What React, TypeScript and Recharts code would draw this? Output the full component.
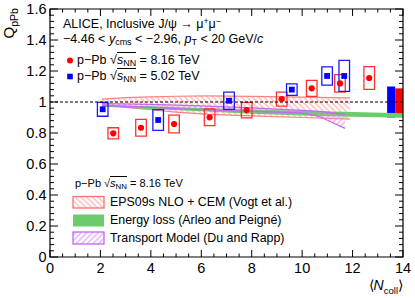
import React from 'react';
import { ComposedChart, XAxis, YAxis, Area, Scatter, ReferenceArea, ReferenceLine } from 'recharts';

const W = 415;
const H = 298;
const MARGIN = { top: 9, right: 12, bottom: 0, left: 0 };
const X_AXIS_H = 41;
const Y_AXIS_W = 50;
const PLOT_W = W - MARGIN.right - Y_AXIS_W;
const PLOT_H = H - MARGIN.top - X_AXIS_H;
const FONT = '"Liberation Sans", Arial, Helvetica, sans-serif';

// ---- data: p-Pb 8.16 TeV (red) ----
const red8X = [2.51, 3.61, 4.92, 6.33, 7.8, 9.19, 10.38, 11.5, 12.66];
const red8Y = [0.798, 0.834, 0.858, 0.901, 0.948, 1.019, 1.088, 1.12, 1.155];
const red8Sys = [0.036, 0.054, 0.057, 0.054, 0.05, 0.045, 0.052, 0.056, 0.073];

// ---- data: p-Pb 5.02 TeV (blue) ----
const blue5X = [2.09, 4.29, 7.1, 9.59, 10.99, 11.67];
const blue5Y = [0.953, 0.884, 1.008, 1.08, 1.168, 1.168];
const blue5Sys = [0.045, 0.067, 0.056, 0.037, 0.059, 0.1];

// global uncertainties
const blueGlobal = 0.1;
const redGlobal = 0.088;

// ---- models ----
const eps09X = [2.06, 3, 4, 5, 6.3, 8, 10, 11.9];
const eps09Low = [0.987, 0.965, 0.95, 0.935, 0.92, 0.91, 0.9, 0.89];
const eps09High = [1.019, 1.028, 1.033, 1.037, 1.039, 1.036, 1.032, 1.026];

const elossX = [2.06, 4, 6, 8, 10, 12, 14];
const elossLow = [0.97, 0.955, 0.94, 0.925, 0.913, 0.905, 0.898];
const elossHigh = [0.98, 0.972, 0.962, 0.952, 0.943, 0.935, 0.928];

const transpX = [2.06, 4, 6, 8, 10, 10.7, 11.7];
const transpLow = [0.978, 0.965, 0.95, 0.94, 0.93, 0.905, 0.83];
const transpHigh = [0.99, 0.985, 0.975, 0.962, 0.946, 0.94, 0.92];

// ---- ticks ----
const xMajorTicks = [0, 2, 4, 6, 8, 10, 12, 14];
const yMajorTicks = [0, 0.2, 0.4, 0.6, 0.8, 1, 1.2, 1.4, 1.6];
const xTicks: number[] = [];
for (let i = 0; i <= 28; i++) xTicks.push(i * 0.5);
const yTicks: number[] = [];
for (let i = 0; i <= 40; i++) yTicks.push(Math.round(i * 0.04 * 1000) / 1000);

const BOX_HW = 0.21;

const red8Data = red8X.map((x, i) => ({ x, y: red8Y[i], sys: red8Sys[i] }));
const blue5Data = blue5X.map((x, i) => ({ x, y: blue5Y[i], sys: blue5Sys[i] }));
const eps09Data = eps09X.map((x, i) => ({ x, range: [eps09Low[i], eps09High[i]] }));
const elossData = elossX.map((x, i) => ({ x, range: [elossLow[i], elossHigh[i]] }));
const transpData = transpX.map((x, i) => ({ x, range: [transpLow[i], transpHigh[i]] }));

const XTick = (props: any) => {
  const { x, y, payload } = props;
  const v = payload.value;
  const major = xMajorTicks.some((t) => Math.abs(t - v) < 1e-6);
  const L = major ? 7 : 3.5;
  return (
    <g>
      <line x1={x} y1={y} x2={x} y2={y - L} stroke="#000" strokeWidth={1} />
      <line x1={x} y1={y - PLOT_H} x2={x} y2={y - PLOT_H + L} stroke="#000" strokeWidth={1} />
      {major && (
        <text x={x} y={y + 15.5} textAnchor="middle" fontSize={14.5} fontFamily={FONT} fill="#000">
          {v}
        </text>
      )}
    </g>
  );
};

const YTick = (props: any) => {
  const { x, y, payload } = props;
  const v = payload.value;
  const major = yMajorTicks.some((t) => Math.abs(t - v) < 1e-6);
  const L = major ? 8 : 4;
  const hiddenRight = Math.abs(v - 1) < redGlobal + 0.005;
  return (
    <g>
      <line x1={x} y1={y} x2={x + L} y2={y} stroke="#000" strokeWidth={1} />
      {!hiddenRight && (
        <line x1={x + PLOT_W} y1={y} x2={x + PLOT_W - L} y2={y} stroke="#000" strokeWidth={1} />
      )}
      {major && (
        <text x={x - 3.5} y={y + 5.2} textAnchor="end" fontSize={14.5} fontFamily={FONT} fill="#000">
          {Number(v.toFixed(1)).toString()}
        </text>
      )}
    </g>
  );
};

const Dot = (props: any) => <circle cx={props.cx} cy={props.cy} r={3.1} fill="#ff0000" />;
const Sq = (props: any) => (
  <rect x={props.cx - 2.9} y={props.cy - 2.9} width={5.8} height={5.8} fill="#0000ff" />
);

const TL = ({ x, base, size, children }: any) => (
  <div
    style={{
      position: 'absolute',
      left: x,
      top: base - 0.8465 * size,
      fontSize: size,
      lineHeight: `${size}px`,
      height: size,
      whiteSpace: 'nowrap',
      color: '#000',
      fontFamily: FONT,
    }}
  >
    {children}
  </div>
);

const Sub = ({ children }: any) => (
  <span style={{ fontSize: '0.72em', verticalAlign: '-0.25em', lineHeight: 0 }}>{children}</span>
);
const Sup = ({ children }: any) => (
  <span style={{ fontSize: '0.7em', verticalAlign: '0.45em', lineHeight: 0 }}>{children}</span>
);
const Sqrt = () => (
  <>
    <span>√</span>
    <span style={{ borderTop: '1px solid #000' }}>
      <i>s</i>
      <Sub>NN</Sub>
    </span>
  </>
);

const Patterns = ({ suffix }: { suffix: string }) => (
  <defs>
    <pattern id={`hatchR${suffix}`} patternUnits="userSpaceOnUse" width="4" height="4" patternTransform="rotate(-45)">
      <line x1="2" y1="0" x2="2" y2="4" stroke="#ff9a9a" strokeWidth="1" />
    </pattern>
    <pattern id={`hatchP${suffix}`} patternUnits="userSpaceOnUse" width="4" height="4" patternTransform="rotate(45)">
      <line x1="2" y1="0" x2="2" y2="4" stroke="#d48cff" strokeWidth="1" />
    </pattern>
  </defs>
);

export default function App() {
  return (
    <div style={{ position: 'absolute', left: 0, top: 0, width: W, height: H, background: '#fff', overflow: 'hidden' }}>
      <ComposedChart width={W} height={H} margin={MARGIN}>
        <Patterns suffix="c" />
        <XAxis
          type="number"
          dataKey="x"
          domain={[0, 14]}
          ticks={xTicks}
          interval={0}
          height={X_AXIS_H}
          tickSize={0}
          tickMargin={0}
          axisLine={false}
          tickLine={false}
          tick={(p: any) => <XTick {...p} />}
          allowDataOverflow
        />
        <YAxis
          type="number"
          domain={[0, 1.6]}
          ticks={yTicks}
          interval={0}
          width={Y_AXIS_W}
          tickSize={0}
          tickMargin={0}
          axisLine={false}
          tickLine={false}
          tick={(p: any) => <YTick {...p} />}
          allowDataOverflow
        />
        <ReferenceArea x1={13.37} x2={13.69} y1={1 - blueGlobal} y2={1 + blueGlobal} fill="#0000ff" fillOpacity={1} stroke="none" />
        <ReferenceArea x1={13.69} x2={14} y1={1 - redGlobal} y2={1 + redGlobal} fill="#ff0000" fillOpacity={1} stroke="none" />
        <Area
          data={eps09Data}
          dataKey="range"
          type="linear"
          stroke="#ff8080"
          strokeWidth={1.2}
          fill="url(#hatchRc)"
          fillOpacity={1}
          isAnimationActive={false}
          dot={false}
          activeDot={false}
        />
        <Area
          data={elossData}
          dataKey="range"
          type="linear"
          stroke="none"
          fill="#6ccb6c"
          fillOpacity={1}
          isAnimationActive={false}
          dot={false}
          activeDot={false}
        />
        <Area
          data={transpData}
          dataKey="range"
          type="linear"
          stroke="#c466f5"
          strokeWidth={1.2}
          fill="url(#hatchPc)"
          fillOpacity={1}
          isAnimationActive={false}
          dot={false}
          activeDot={false}
        />
        <ReferenceLine y={1} stroke="#000" strokeDasharray="3 2" strokeWidth={1.2} />
        {red8Data.map((d, i) => (
          <ReferenceArea
            key={`r${i}`}
            x1={d.x - BOX_HW}
            x2={d.x + BOX_HW}
            y1={d.y - d.sys}
            y2={d.y + d.sys}
            fill="none"
            fillOpacity={0}
            stroke="#ff3030"
            strokeWidth={1.3}
          />
        ))}
        {blue5Data.map((d, i) => (
          <ReferenceArea
            key={`b${i}`}
            x1={d.x - BOX_HW}
            x2={d.x + BOX_HW}
            y1={d.y - d.sys}
            y2={d.y + d.sys}
            fill="none"
            fillOpacity={0}
            stroke="#1a1aff"
            strokeWidth={1.3}
          />
        ))}
        <Scatter data={red8Data} dataKey="y" shape={(p: any) => <Dot {...p} />} isAnimationActive={false} />
        <Scatter data={blue5Data} dataKey="y" shape={(p: any) => <Sq {...p} />} isAnimationActive={false} />
        <ReferenceArea x1={0} x2={14} y1={0} y2={1.6} fill="none" fillOpacity={0} stroke="#000" strokeWidth={1.2} />
      </ComposedChart>

      <svg width={W} height={H} style={{ position: 'absolute', left: 0, top: 0, pointerEvents: 'none' }}>
        <Patterns suffix="l" />
        <circle cx={70} cy={60.5} r={3} fill="#ff0000" />
        <rect x={67.2} y={73.7} width={5.6} height={5.6} fill="#0000ff" />
        <rect x={73} y={196.5} width={31} height={11.5} fill="url(#hatchRl)" stroke="#ff7070" strokeWidth={1.3} />
        <rect x={73} y={214.5} width={31} height={12} fill="#6ccb6c" />
        <rect x={73} y={232} width={31} height={12} fill="url(#hatchPl)" stroke="#c466f5" strokeWidth={1.3} />
        <text transform="translate(13.5,38.5) rotate(-90)" fontFamily={FONT} fontSize={15} fill="#000">
          Q<tspan fontSize={10.5} dy={4}>pPb</tspan>
        </text>
        <text x={403} y={290} textAnchor="end" fontFamily={FONT} fontSize={14} fill="#000">
          ⟨<tspan fontStyle="italic">N</tspan>
          <tspan fontSize={9.5} dy={3.5}>coll</tspan>
          <tspan dy={-3.5}>⟩</tspan>
        </text>
      </svg>

      <TL x={63} base={28.5} size={12.5}>
        ALICE, Inclusive J/ψ → μ<Sup>+</Sup>μ<Sup>−</Sup>
      </TL>
      <TL x={63} base={43.5} size={12.5}>
        −4.46 &lt; <i>y</i>
        <Sub>cms</Sub> &lt; −2.96, <i>p</i>
        <Sub>T</Sub> &lt; 20 GeV/<i>c</i>
      </TL>
      <TL x={77} base={64.8} size={12.5}>
        p−Pb <Sqrt /> = 8.16 TeV
      </TL>
      <TL x={77} base={81} size={12.5}>
        p−Pb <Sqrt /> = 5.02 TeV
      </TL>
      <TL x={75} base={187.5} size={11}>
        p−Pb <Sqrt /> = 8.16 TeV
      </TL>
      <TL x={110} base={206.5} size={12.4}>
        EPS09s NLO + CEM (Vogt et al.)
      </TL>
      <TL x={110} base={224.8} size={12.4}>
        Energy loss (Arleo and Peigné)
      </TL>
      <TL x={110} base={242.5} size={12.4}>
        Transport Model (Du and Rapp)
      </TL>
    </div>
  );
}
